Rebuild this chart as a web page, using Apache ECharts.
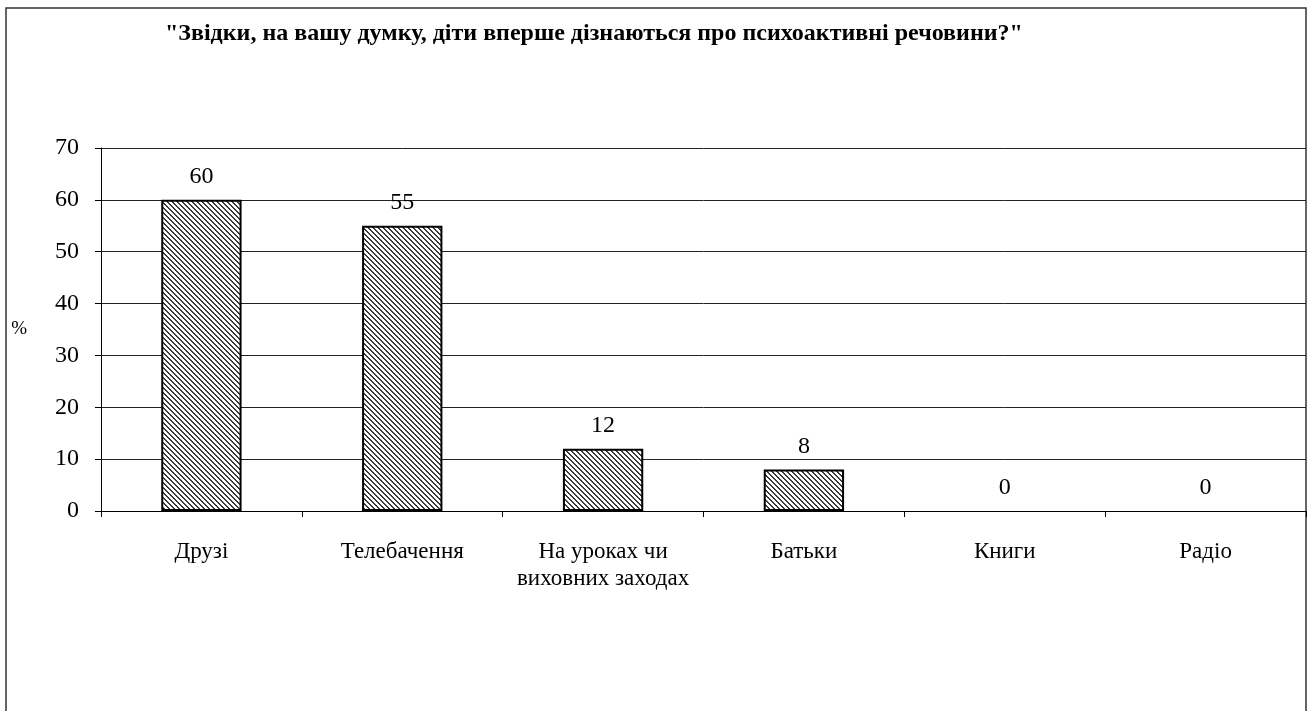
<!DOCTYPE html>
<html lang="uk">
<head>
    <meta charset="UTF-8">
    <title>Звідки діти вперше дізнаються про психоактивні речовини</title>
    <script src="https://cdn.jsdelivr.net/npm/echarts@6/dist/echarts.min.js"></script>
    <style>
        html, body { margin: 0; padding: 0; background: #fff; }
        #container { width: 1309px; height: 711px; }
    </style>
</head>
<body>
<div id="container"></div>
<script type="text/javascript">
    // дані з діаграми
    var categories = ['Друзі', 'Телебачення', 'На уроках чи\nвиховних заходах', 'Батьки', 'Книги', 'Радіо'];
    var values = [60, 55, 12, 8, 0, 0];
    var yTicks = [0, 10, 20, 30, 40, 50, 60, 70];

    // штриховка "\\" для стовпців
    function hatch() {
        var size = 5;
        var c = document.createElement('canvas');
        c.width = size; c.height = size;
        var ctx = c.getContext('2d');
        var img = ctx.createImageData(size, size);
        for (var y = 0; y < size; y++) {
            for (var x = 0; x < size; x++) {
                var k = ((x - y) % size + size) % size;
                var v = k < 2 ? 60 : 255;
                var i = (y * size + x) * 4;
                img.data[i] = v; img.data[i + 1] = v; img.data[i + 2] = v; img.data[i + 3] = 255;
            }
        }
        ctx.putImageData(img, 0, 0);
        return c;
    }

    var font = '"Liberation Serif", "Times New Roman", serif';
    var pattern = hatch();
    // нульові стовпці не мають рамки
    var barData = values.map(function (v) {
        return v === 0 ? { value: v, itemStyle: { borderWidth: 0, opacity: 0 } } : v;
    });

    var myChart = echarts.init(document.getElementById('container'));
    var option = {
        animation: false,
        backgroundColor: '#fff',
        textStyle: { fontFamily: font },
        title: {
            text: '"Звідки, на вашу думку, діти вперше дізнаються про психоактивні речовини?"',
            left: 160,
            top: 17,
            textStyle: { fontFamily: font, fontSize: 24, fontWeight: 'bold', color: '#000' }
        },
        graphic: [{
            type: 'rect',
            shape: { x: 6, y: 8, width: 1300, height: 760 },
            style: { fill: null, stroke: '#333', lineWidth: 1.5 },
            silent: true
        }],
        grid: { left: 101, right: 3, top: 148, bottom: 200, containLabel: false },
        xAxis: {
            type: 'category',
            data: categories,
            axisLine: { lineStyle: { color: '#000', width: 1 } },
            axisTick: { show: true, interval: 0, length: 6, lineStyle: { color: '#000' } },
            axisLabel: { interval: 0, color: '#000', fontSize: 23, fontFamily: font, margin: 27, lineHeight: 27 }
        },
        yAxis: {
            type: 'value',
            min: yTicks[0],
            max: yTicks[yTicks.length - 1],
            interval: 10,
            name: '%',
            nameLocation: 'middle',
            nameRotate: 0,
            nameGap: 74,
            nameTextStyle: { color: '#000', fontSize: 19, fontFamily: font },
            axisLine: { show: true, lineStyle: { color: '#000' } },
            axisTick: { show: true, length: 6, lineStyle: { color: '#000' } },
            axisLabel: { color: '#000', fontSize: 24, fontFamily: font, margin: 22 },
            splitLine: { show: true, lineStyle: { color: '#222', width: 1 } }
        },
        series: [{
            type: 'bar',
            data: barData,
            barWidth: '40%',
            itemStyle: {
                color: { image: pattern, repeat: 'repeat' },
                borderColor: '#000',
                borderWidth: 2
            },
            label: {
                show: true,
                position: 'top',
                distance: 11,
                color: '#000',
                fontSize: 24,
                fontFamily: font,
                opacity: 1
            }
        }]
    };
    myChart.setOption(option, true);
</script>
</body>
</html>
